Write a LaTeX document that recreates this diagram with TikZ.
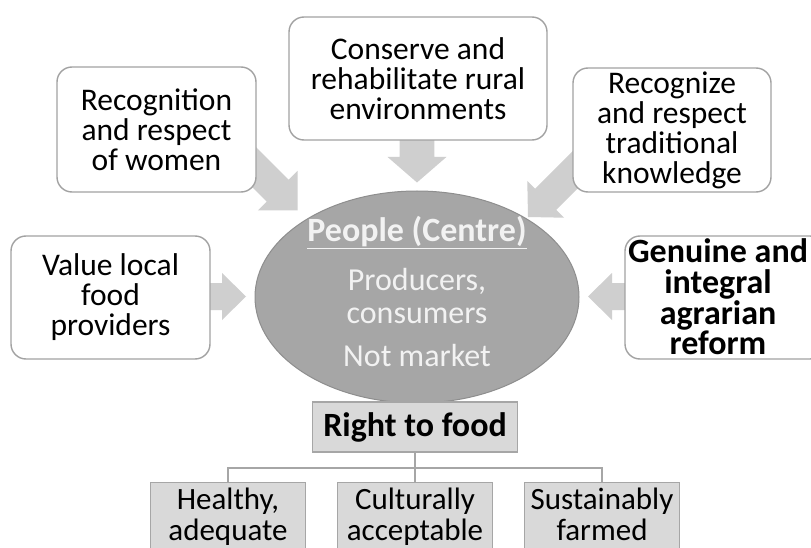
\documentclass[tikz,border=0pt]{standalone}
\usepackage{fontspec}
\setmainfont{Carlito}
\usetikzlibrary{shapes.geometric,calc}

\definecolor{boxline}{HTML}{A2A2A2}
\definecolor{arrowfill}{HTML}{CFCFCF}
\definecolor{ellfill}{HTML}{A6A6A6}
\definecolor{ellline}{HTML}{8E8E8E}
\definecolor{ltext}{HTML}{F2F2F2}
\definecolor{kidfill}{HTML}{D9D9D9}
\definecolor{kidline}{HTML}{A6A6A6}

% wide block arrow: #1 start, #2 tip, #3 half shaft width, #4 half head width, #5 head length
\newcommand{\fatarrow}[5]{%
  \coordinate (fa-b) at ($(#2)!#5!(#1)$);
  \fill[arrowfill] ($(#1)!#3!90:(#2)$) -- ($(fa-b)!#3!90:(#2)$) -- ($(fa-b)!#4!90:(#2)$)
    -- (#2) -- ($(fa-b)!#4!-90:(#2)$) -- ($(fa-b)!#3!-90:(#2)$) -- ($(#1)!#3!-90:(#2)$) -- cycle;
}

\begin{document}
\begin{tikzpicture}[x=1pt,y=-1pt,
  txt/.style={font=\fontsize{31.5}{30}\selectfont},
  btxt/.style={font=\fontsize{34}{30.7}\selectfont\bfseries},
  rbox/.style={txt, draw=boxline, line width=1.4pt, fill=white, rounded corners=15pt,
    align=center, inner sep=0pt},
  kid/.style={draw=kidline, line width=1.3pt, fill=kidfill, inner sep=0pt,
    minimum width=155pt, minimum height=80pt, anchor=north},
  kidtxt/.style={font=\fontsize{31}{28}\selectfont, align=center, inner sep=0pt},
  conn/.style={draw=kidline, line width=1.5pt},
  intext/.style={font=\fontsize{32}{30}\selectfont, text=ltext, anchor=base}]

\clip (0,0) rectangle (811,548);
\fill[white] (0,0) rectangle (811,548);

% block arrows pointing at the centre
\coordinate (aTopS) at (417,128);   \coordinate (aTopT) at (417,182.5);
\coordinate (aNWS)  at (238,151);   \coordinate (aNWT)  at (297.5,210.5);
\coordinate (aNES)  at (588,157);   \coordinate (aNET)  at (528,217);
\coordinate (aWS)   at (200,296.5); \coordinate (aWT)   at (246,296.5);
\coordinate (aES)   at (636,296.5); \coordinate (aET)   at (588,296.5);
\fatarrow{aTopS}{aTopT}{17.3pt}{29.5pt}{25.6pt}
\fatarrow{aNWS}{aNWT}{15.5pt}{28pt}{28pt}
\fatarrow{aNES}{aNET}{15pt}{26pt}{25pt}
\fatarrow{aWS}{aWT}{13.5pt}{23.5pt}{24pt}
\fatarrow{aES}{aET}{13.5pt}{23.5pt}{24pt}

% centre
\node[ellipse, fill=ellfill, draw=ellline, line width=1pt, inner sep=0pt,
  minimum width=324pt, minimum height=212pt] (people) at (417,297) {};
\node[intext, font=\fontsize{34}{30}\selectfont\bfseries] (peopleT) at (417,241.7)
  {\underline{People (Centre)}};
\node[intext] (prodT) at (417,290.7) {Producers,};
\node[intext] (consT) at (417,323.3) {consumers};
\node[intext] (notT) at (417,366.7) {Not market};

% surrounding principles
\node[rbox, minimum width=258pt, minimum height=123pt] (conserve) at (418,78.5)
  {Conserve and\\rehabilitate rural\\environments};
\node[rbox, minimum width=199pt, minimum height=125pt] (women) at (156.5,129.5)
  {Recognition\\and respect\\of women};
\node[rbox, minimum width=198pt, minimum height=124pt] (tradk) at (672,130)
  {Recognize\\and respect\\traditional\\knowledge};
\node[rbox, minimum width=199pt, minimum height=123pt] (local) at (110.5,297.5)
  {Value local\\food\\providers};
\node[rbox, minimum width=200pt, minimum height=123pt] (agrarian) at (725,297.5) {};
\node[btxt, align=center, inner sep=0pt] (agrarianT) at (718,297)
  {Genuine and\\integral\\agrarian\\reform};

% right to food tree
\node[btxt, draw=kidline, line width=1.3pt, fill=kidfill, inner sep=0pt,
  minimum width=205pt, minimum height=50pt] (rtf) at (415,427) {Right to food};
\node[kid] (healthy) at (228,482) {};
\node[kid] (cult) at (415,482) {};
\node[kid] (sust) at (602,482) {};
\node[kidtxt] (healthyT) at (228,518.5) {Healthy,\strut\\adequate\strut};
\node[kidtxt] (cultT) at (415,518.5) {Culturally\strut\\acceptable\strut};
\node[kidtxt] (sustT) at (602,518.5) {Sustainably\strut\\farmed\strut};

\draw[conn] (rtf.south) -- (cult.north);
\draw[conn] (rtf.south) -- ++(0,15.3) -| (healthy.north);
\draw[conn] (rtf.south) -- ++(0,15.3) -| (sust.north);
\end{tikzpicture}
\end{document}
